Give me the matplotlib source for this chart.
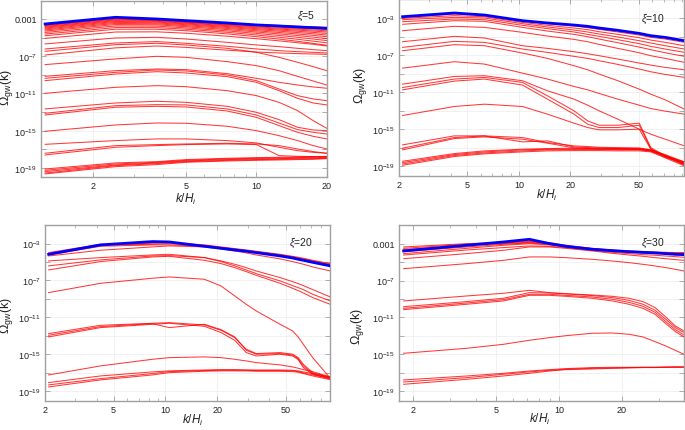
import numpy as np
import matplotlib
matplotlib.use("Agg")
import matplotlib.pyplot as plt
from matplotlib.ticker import FixedLocator, FixedFormatter, NullFormatter, LogLocator

plt.rcParams['font.family'] = ['Liberation Sans', 'DejaVu Sans']
plt.rcParams['mathtext.fontset'] = 'custom'
plt.rcParams['mathtext.rm'] = 'Liberation Sans'
plt.rcParams['mathtext.it'] = 'Liberation Sans:italic'
plt.rcParams['mathtext.bf'] = 'Liberation Sans:bold'

# ---------------- data: log10(Omega_gw) at sampled k/H_i ----------------
# xi = 5
K_XI5 = [1.25, 2.5, 3.75, 5, 7.5, 10, 12.5, 15, 17.5, 20]
BLUE_XI5 = [-3.54, -2.82, -3.00, -3.18, -3.43, -3.64, -3.75, -3.86, -3.93, -4.00]
RED_XI5_TOP = [
    [-3.58, -2.88, -3.02, -3.20, -3.42, -3.60, -3.70, -3.78, -3.85, -3.90],
    [-3.65, -2.95, -3.07, -3.26, -3.50, -3.68, -3.79, -3.88, -3.95, -4.02],
    [-3.72, -3.02, -3.12, -3.32, -3.57, -3.76, -3.88, -3.98, -4.06, -4.14],
    [-3.80, -3.10, -3.18, -3.38, -3.64, -3.85, -3.98, -4.09, -4.18, -4.27],
    [-3.88, -3.18, -3.25, -3.45, -3.72, -3.94, -4.08, -4.20, -4.30, -4.40],
    [-3.97, -3.27, -3.33, -3.53, -3.81, -4.04, -4.19, -4.32, -4.44, -4.55],
    [-4.07, -3.37, -3.42, -3.62, -3.91, -4.15, -4.31, -4.46, -4.59, -4.72],
    [-4.18, -3.48, -3.52, -3.72, -4.02, -4.27, -4.45, -4.61, -4.76, -4.90],
    [-4.30, -3.60, -3.63, -3.83, -4.14, -4.40, -4.60, -4.78, -4.95, -5.10],
    [-4.45, -3.75, -3.77, -3.96, -4.28, -4.55, -4.77, -4.97, -5.15, -5.32],
    [-4.62, -3.92, -3.93, -4.10, -4.43, -4.72, -4.96, -5.18, -5.38, -5.56],
    [-4.80, -4.10, -4.10, -4.26, -4.60, -4.90, -5.16, -5.40, -5.62, -5.82],
    [-5.08, -4.40, -4.38, -4.53, -4.85, -5.12, -5.35, -5.55, -5.72, -5.90],
]
RED_XI5_MID = [
    [-5.68, -5.04, -4.97, -5.15, -5.51, -5.79, -5.97, -6.15, -6.29, -6.40],
    [-6.22, -5.58, -5.43, -5.61, -5.93, -6.22, -6.40, -6.51, -6.58, -6.65],
    [-6.47, -5.76, -5.61, -5.79, -6.15, -6.58, -7.12, -7.65, -8.12, -8.55],
    [-6.87, -6.10, -5.90, -6.05, -6.35, -6.55, -6.65, -6.72, -6.76, -6.80],
    [-7.90, -7.29, -7.01, -7.12, -7.58, -8.01, -8.55, -9.16, -9.66, -10.09],
    [-9.16, -8.55, -8.37, -8.44, -8.87, -9.37, -9.80, -10.09, -10.30, -10.44],
    [-9.37, -8.73, -8.48, -8.58, -9.01, -9.62, -10.52, -11.23, -11.59, -11.77],
    [-9.62, -8.91, -8.66, -8.80, -9.19, -9.80, -10.70, -11.52, -12.02, -12.23],
    [-10.98, -10.34, -10.16, -10.27, -10.70, -11.23, -11.95, -12.84, -13.92, -14.74],
    [-12.66, -12.02, -11.84, -11.95, -12.38, -13.02, -13.81, -14.63, -14.92, -14.99],
    [-13.13, -12.31, -12.20, -12.23, -12.66, -13.31, -14.17, -14.88, -15.17, -15.35],
    [-13.31, -12.48, -12.38, -12.45, -12.88, -13.56, -14.45, -15.17, -15.60, -15.88],
]
RED_XI5_LOW = [
    [-15.06, -14.38, -14.17, -14.20, -14.52, -14.99, -15.53, -16.06, -16.60, -16.96],
    [-16.46, -16.06, -15.88, -15.88, -16.06, -16.31, -16.78, -17.14, -17.32, -17.42],
    [-17.42, -16.60, -16.49, -16.42, -16.35, -16.42, -16.60, -16.96, -17.24, -17.42],
    [-17.60, -16.78, -16.60, -16.49, -16.42, -16.49, -17.67, -17.75, -17.78, -17.82],
    [-19.11, -18.46, -18.32, -18.10, -17.96, -17.89, -17.85, -17.82, -17.78, -17.75],
    [-19.25, -18.57, -18.39, -18.18, -18.03, -17.96, -17.92, -17.89, -17.85, -17.82],
    [-19.39, -18.68, -18.46, -18.25, -18.10, -18.03, -18.00, -17.96, -17.92, -17.89],
    [-19.54, -18.75, -18.53, -18.32, -18.18, -18.10, -18.07, -18.03, -18.00, -17.96],
    [-19.64, -18.86, -18.64, -18.39, -18.25, -18.18, -18.14, -18.10, -18.07, -18.00],
]

# xi = 10
K_XI10 = [2.1, 4.2, 6.3, 10.5, 14.7, 21, 25.2, 29.4, 37.8, 50.4, 58.8, 71.4, 92.4]
BLUE_XI10 = [-2.86, -2.46, -2.68, -3.29, -3.54, -3.76, -3.90, -4.08, -4.33, -4.66, -4.91, -5.09, -5.45]
RED_XI10_TOP = [
    [-2.93, -2.57, -2.71, -3.32, -3.61, -3.86, -4.05, -4.23, -4.51, -4.84, -5.09, -5.27, -5.63],
    [-3.04, -2.75, -2.86, -3.47, -3.79, -4.08, -4.26, -4.48, -4.77, -5.13, -5.38, -5.63, -5.99],
    [-3.18, -2.93, -3.00, -3.61, -3.97, -4.30, -4.51, -4.73, -5.05, -5.45, -5.70, -5.99, -6.35],
    [-3.40, -3.11, -3.18, -3.79, -4.15, -4.51, -4.77, -4.98, -5.34, -5.77, -6.06, -6.35, -6.71],
    [-3.68, -3.29, -3.36, -4.01, -4.41, -4.77, -5.02, -5.27, -5.67, -6.14, -6.42, -6.75, -7.14],
    [-4.37, -3.90, -4.01, -4.55, -4.95, -5.31, -5.56, -5.85, -6.28, -6.75, -7.07, -7.36, -7.79],
    [-5.56, -4.98, -5.16, -5.99, -6.28, -6.64, -6.86, -7.07, -7.43, -7.86, -8.08, -8.33, -8.59],
    [-6.17, -5.52, -5.63, -6.35, -6.71, -7.14, -7.36, -7.61, -8.01, -8.51, -8.80, -9.09, -9.41],
    [-6.53, -5.88, -5.99, -6.78, -7.36, -8.15, -8.59, -9.05, -9.77, -10.68, -11.22, -11.83, -12.84],
]
RED_XI10_MID = [
    [-8.41, -7.72, -7.97, -8.95, -9.59, -10.39, -10.75, -11.14, -11.76, -12.41, -12.77, -13.05, -13.38],
    [-10.14, -9.31, -9.23, -9.77, -10.86, -11.76, -12.41, -13.02, -13.92, -15.00, -15.54, -16.08, -16.80],
    [-10.50, -9.59, -9.41, -9.95, -11.40, -13.02, -14.10, -14.57, -14.57, -14.35, -16.98, -17.88, -18.53],
    [-10.75, -9.81, -9.59, -10.24, -11.76, -13.38, -14.46, -14.82, -14.82, -14.57, -17.09, -17.95, -18.60],
    [-13.52, -12.55, -12.30, -12.55, -13.38, -14.35, -14.82, -15.07, -15.07, -15.00, -17.16, -18.02, -18.68],
]
RED_XI10_LOW = [
    [-16.69, -15.72, -15.72, -15.90, -16.44, -16.80, -16.87, -16.95, -16.98, -17.02, -17.23, -17.81, -18.71],
    [-17.05, -15.90, -15.72, -16.37, -16.26, -16.91, -16.98, -17.05, -17.09, -17.13, -17.31, -17.88, -18.78],
    [-17.23, -16.01, -15.83, -16.08, -16.51, -17.02, -17.09, -17.13, -17.16, -17.20, -17.34, -17.95, -18.86],
    [-18.46, -17.63, -17.34, -17.16, -17.09, -17.05, -17.05, -17.05, -17.09, -17.09, -17.23, -17.74, -18.53],
    [-18.60, -17.74, -17.45, -17.23, -17.16, -17.13, -17.13, -17.13, -17.16, -17.16, -17.31, -17.84, -18.68],
    [-18.75, -17.84, -17.56, -17.34, -17.23, -17.20, -17.20, -17.20, -17.23, -17.23, -17.37, -17.95, -18.82],
    [-18.89, -17.95, -17.66, -17.45, -17.34, -17.31, -17.31, -17.31, -17.34, -17.34, -17.45, -18.09, -18.96],
]

# xi = 20
K_XI20 = [2.1, 4.2, 8.4, 10.5, 16.8, 21, 25.2, 29.4, 33.6, 46.2, 54.6, 58.8, 63, 71.4, 90.3]
BLUE_XI20 = [-4.16, -3.14, -2.78, -2.82, -3.29, -3.51, -3.69, -3.83, -3.98, -4.34, -4.56, -4.70, -4.81, -5.03, -5.42]
RED_XI20_TOP = [
    [-3.98, -3.07, -2.96, -2.89, -3.14, -3.36, -3.54, -3.69, -3.83, -4.16, -4.38, -4.48, -4.59, -4.81, -5.17],
    [-4.09, -3.18, -3.07, -3.00, -3.22, -3.43, -3.62, -3.76, -3.90, -4.23, -4.45, -4.56, -4.66, -4.88, -5.24],
    [-4.23, -3.29, -3.14, -3.14, -3.29, -3.51, -3.69, -3.83, -3.98, -4.30, -4.52, -4.63, -4.74, -4.95, -5.32],
    [-4.34, -3.72, -3.36, -3.25, -3.36, -3.58, -3.80, -4.01, -4.23, -4.66, -4.95, -5.10, -5.24, -5.53, -5.97],
    [-4.88, -4.52, -4.23, -4.16, -4.52, -4.88, -5.24, -5.61, -5.97, -6.69, -7.13, -7.34, -7.56, -7.99, -8.79],
    [-5.42, -4.77, -4.34, -4.30, -4.52, -4.95, -5.42, -5.86, -6.26, -7.05, -7.56, -7.78, -7.99, -8.50, -9.22],
    [-5.86, -4.95, -4.45, -4.38, -4.81, -5.17, -5.61, -6.04, -6.44, -7.31, -7.85, -8.10, -8.36, -8.86, -9.59],
]
RED_XI20_MID = [
    [-8.32, -7.31, -6.76, -6.62, -6.87, -7.60, -8.68, -9.59, -10.31, -11.76, -12.48, -13.13, -13.93, -15.38, -17.62],
    [-12.77, -11.87, -11.65, -11.58, -11.83, -12.41, -13.21, -14.47, -14.94, -14.83, -15.01, -15.38, -16.10, -17.01, -17.55],
    [-12.95, -12.01, -11.69, -12.12, -11.76, -12.34, -13.13, -14.58, -15.01, -14.94, -15.09, -15.49, -16.28, -17.11, -17.62],
    [-13.13, -12.12, -11.76, -11.65, -11.98, -12.66, -13.50, -14.83, -15.20, -15.01, -15.20, -15.59, -16.46, -17.19, -17.69],
]
RED_XI20_LOW = [
    [-17.26, -16.28, -15.56, -15.38, -15.30, -15.38, -15.56, -15.74, -15.92, -16.17, -16.39, -16.53, -16.68, -16.90, -17.48],
    [-18.09, -17.37, -16.93, -16.82, -16.72, -16.68, -16.68, -16.72, -16.72, -16.72, -16.75, -16.82, -16.93, -17.11, -17.48],
    [-18.34, -17.66, -17.11, -16.90, -16.79, -16.75, -16.75, -16.75, -16.79, -16.79, -16.82, -16.90, -17.04, -17.26, -17.62],
    [-18.56, -17.80, -17.26, -17.01, -16.86, -16.82, -16.82, -16.82, -16.86, -16.86, -16.90, -16.97, -17.11, -17.37, -17.77],
]

# xi = 30
K_XI30 = [1.8, 3.6, 5.4, 7.2, 9, 10.8, 14.4, 18, 21.6, 25.2, 28.8, 32.4, 36, 39.6]
BLUE_XI30 = [-3.79, -3.18, -2.82, -2.53, -3.00, -3.29, -3.61, -3.76, -3.87, -3.94, -4.01, -4.08, -4.16, -4.19]
RED_XI30_TOP = [
    [-3.36, -3.00, -2.86, -2.71, -2.89, -3.18, -3.51, -3.69, -3.79, -3.87, -3.90, -3.94, -3.98, -3.98],
    [-3.51, -3.07, -2.93, -2.78, -2.96, -3.25, -3.54, -3.72, -3.83, -3.90, -3.94, -3.98, -4.01, -4.01],
    [-3.65, -3.18, -3.00, -2.86, -3.00, -3.29, -3.58, -3.76, -3.87, -3.94, -3.98, -4.01, -4.05, -4.05],
    [-3.87, -3.36, -3.07, -2.93, -3.07, -3.33, -3.61, -3.79, -3.90, -3.98, -4.01, -4.05, -4.08, -4.08],
    [-4.08, -3.51, -3.18, -3.00, -3.14, -3.36, -3.65, -3.83, -3.94, -4.01, -4.05, -4.08, -4.12, -4.12],
    [-4.23, -3.69, -3.43, -3.25, -3.29, -3.43, -3.72, -3.94, -4.08, -4.19, -4.26, -4.34, -4.41, -4.48],
    [-4.63, -4.08, -3.72, -3.36, -3.36, -3.51, -3.79, -4.05, -4.23, -4.37, -4.52, -4.63, -4.73, -4.81],
    [-5.71, -5.17, -4.81, -4.44, -4.44, -4.52, -4.70, -4.88, -5.06, -5.24, -5.42, -5.60, -5.78, -5.96],
]
RED_XI30_MID = [
    [-9.21, -8.67, -8.38, -8.06, -8.31, -8.42, -8.56, -8.71, -8.92, -9.28, -9.93, -10.95, -11.92, -12.46],
    [-9.83, -9.28, -8.92, -8.31, -8.34, -8.45, -8.63, -8.85, -9.14, -9.57, -10.22, -11.20, -12.10, -12.64],
    [-10.01, -9.43, -9.07, -8.49, -8.49, -8.60, -8.78, -9.03, -9.36, -9.79, -10.44, -11.45, -12.32, -12.90],
    [-10.15, -9.57, -9.21, -8.60, -8.60, -8.71, -8.92, -9.21, -9.57, -10.01, -10.66, -11.67, -12.53, -13.11],
    [-14.88, -14.34, -13.91, -13.47, -13.18, -12.97, -12.71, -12.68, -12.82, -13.11, -13.62, -14.09, -14.56, -14.99],
]
RED_XI30_LOW = [
    [-17.77, -17.34, -17.05, -16.80, -16.65, -16.54, -16.43, -16.40, -16.40, -16.40, -16.40, -16.36, -16.36, -16.36],
    [-17.99, -17.52, -17.16, -16.90, -16.72, -16.61, -16.51, -16.47, -16.43, -16.40, -16.40, -16.40, -16.36, -16.36],
    [-18.24, -17.70, -17.34, -17.05, -16.80, -16.65, -16.58, -16.51, -16.47, -16.43, -16.43, -16.40, -16.40, -16.40],
]

XI_LABELS = ["5", "10", "20", "30"]
XTICKS_XI5 = [2, 5, 10, 20]
XTICKS_XI10 = [2, 5, 10, 20, 50]
XTICKS_XI20 = [2, 5, 10, 20, 50]
XTICKS_XI30 = [2, 5, 10, 20]

# ---------------- figure ----------------
W, H = 685, 431
fig = plt.figure(figsize=(W / 100, H / 100), dpi=100)


def frac_box(x0, y0, x1, y1):
    return [x0 / W, 1 - y1 / H, (x1 - x0) / W, (y1 - y0) / H]


panels = [
    dict(box=(41, 2, 327, 178), K=K_XI5, blue=BLUE_XI5, reds=RED_XI5_TOP + RED_XI5_MID + RED_XI5_LOW,
         xlim=(1.2, 20.05), ylim=(-19.97, -1.07), xt=XTICKS_XI5, dec=True, xi=XI_LABELS[0],
         xi_pos=(306, 16), ylab=(7, 88), xlab=(186, 199)),
    dict(box=(399, 0, 684, 177), K=K_XI10, blue=BLUE_XI10, reds=RED_XI10_TOP + RED_XI10_MID + RED_XI10_LOW,
         xlim=(2.0, 91.9), ylim=(-20.05, -0.95), xt=XTICKS_XI10, dec=False, xi=XI_LABELS[1],
         xi_pos=(653, 19), ylab=(361, 86), xlab=(547, 195)),
    dict(box=(45, 226, 330, 402), K=K_XI20, blue=BLUE_XI20, reds=RED_XI20_TOP + RED_XI20_MID + RED_XI20_LOW,
         xlim=(2.0, 90.0), ylim=(-20.09, -0.98), xt=XTICKS_XI20, dec=False, xi=XI_LABELS[2],
         xi_pos=(301, 243), ylab=(7, 316), xlab=(193, 420)),
    dict(box=(399, 226, 684, 402), K=K_XI30, blue=BLUE_XI30, reds=RED_XI30_TOP + RED_XI30_MID + RED_XI30_LOW,
         xlim=(1.71, 39.6), ylim=(-20.05, -0.98), xt=XTICKS_XI30, dec=True, xi=XI_LABELS[3],
         xi_pos=(653, 243), ylab=(357, 327), xlab=(540, 419)),
]

frame_col = '#a0a0a0'
txt_col = '#222222'

for p in panels:
    ax = fig.add_axes(frac_box(*p['box']))
    ax.set_xscale('log')
    ax.set_yscale('log')
    K = np.array(p['K'], dtype=float)
    for c in p['reds']:
        ax.plot(K, 10.0 ** np.array(c), color=(1.0, 0.0, 0.0), lw=0.75, alpha=0.78, zorder=2)
    ax.plot(K, 10.0 ** np.array(p['blue']), color='#0000ff', lw=2.0, zorder=3)
    ax.set_xlim(*p['xlim'])
    ax.set_ylim(10.0 ** p['ylim'][0], 10.0 ** p['ylim'][1])

    ax.xaxis.set_major_locator(FixedLocator(p['xt']))
    ax.xaxis.set_major_formatter(FixedFormatter([str(t) for t in p['xt']]))
    ax.xaxis.set_minor_locator(LogLocator(base=10, subs=np.arange(1, 10)))
    ax.xaxis.set_minor_formatter(NullFormatter())

    exps = list(range(-19, 0, 2))
    ax.yaxis.set_major_locator(FixedLocator([10.0 ** e for e in exps]))
    labs = []
    for e in exps:
        if e in (-3, -7, -11, -15, -19):
            if e == -3 and p['dec']:
                labs.append('0.001')
            else:
                labs.append(r'$10^{%d}$' % e)
        else:
            labs.append('')
    ax.yaxis.set_major_formatter(FixedFormatter(labs))
    ax.yaxis.set_minor_locator(FixedLocator([]))

    ax.tick_params(which='both', direction='in', top=True, right=True, color=frame_col,
                   labelcolor=txt_col, labelsize=6.5, pad=3)
    ax.tick_params(which='major', length=3.5, width=0.6)
    ax.tick_params(which='minor', length=2, width=0.5)
    for s in ax.spines.values():
        s.set_color(frame_col)
        s.set_linewidth(1.0)
    ax.grid(True, which='major', color='#efefef', lw=0.6, zorder=0)
    ax.set_axisbelow(True)

    fig.text(p['xi_pos'][0] / W, 1 - p['xi_pos'][1] / H, r'$\xi$=' + p['xi'],
             ha='center', va='center', fontsize=7.5, color=txt_col)
    fig.text(p['ylab'][0] / W, 1 - p['ylab'][1] / H, r'$\Omega_{\mathrm{gw}}(\mathrm{k})$',
             ha='center', va='center', rotation=90, fontsize=9, color=txt_col)
    fig.text(p['xlab'][0] / W, 1 - p['xlab'][1] / H, r'$k/H_i$',
             ha='center', va='center', fontsize=8.5, color=txt_col)

fig.savefig('out.png', dpi=100)
